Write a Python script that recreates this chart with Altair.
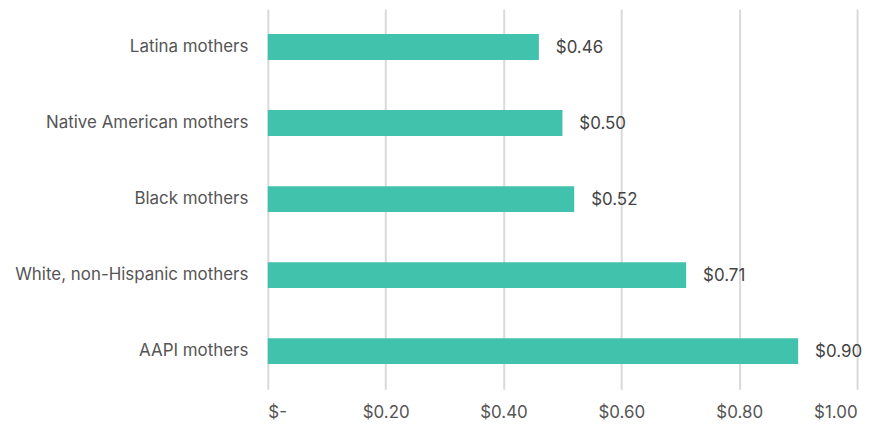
import altair as alt
import pandas as pd

groups = ["Latina mothers", "Native American mothers", "Black mothers",
          "White, non-Hispanic mothers", "AAPI mothers"]
values = [0.46, 0.50, 0.52, 0.71, 0.90]
labels = ["$0.46", "$0.50", "$0.52", "$0.71", "$0.90"]

df = pd.DataFrame({"group": groups, "value": values, "label": labels})

font = "Inter"

x = alt.X("value:Q",
          scale=alt.Scale(domain=[0, 1.0], nice=False, zero=True),
          axis=alt.Axis(values=[0, 0.2, 0.4, 0.6, 0.8, 1.0],
                        labelExpr="datum.value == 0 ? '$-' : '$' + format(datum.value, '.2f')",
                        title=None, domain=False, ticks=False, grid=True,
                        gridColor="#d9d9d9", gridWidth=2,
                        labelFont=font, labelFontSize=17, labelColor="#555555",
                        labelPadding=15))
y = alt.Y("group:N", sort=groups,
          scale=alt.Scale(paddingInner=0.66, paddingOuter=0.33),
          axis=alt.Axis(title=None, domain=False, ticks=False, grid=False,
                        labelFont=font, labelFontSize=17, labelColor="#555555",
                        labelPadding=20, labelLimit=300))

bars = alt.Chart(df).mark_bar(color="#40C2AC").encode(x=x, y=y)
text = alt.Chart(df).mark_text(align="left", baseline="middle", dx=17, dy=1,
                               font=font, fontSize=17, color="#444444").encode(
    x="value:Q", y=alt.Y("group:N", sort=groups), text="label:N")

chart = (bars + text).properties(
    width=592, height=382,
    autosize=alt.AutoSizeParams(type="none"),
    padding={"left": 261, "top": 0, "right": 16, "bottom": 38},
).configure_view(stroke=None)

chart.save("out.html", embed_options={"renderer": "svg", "actions": False})
